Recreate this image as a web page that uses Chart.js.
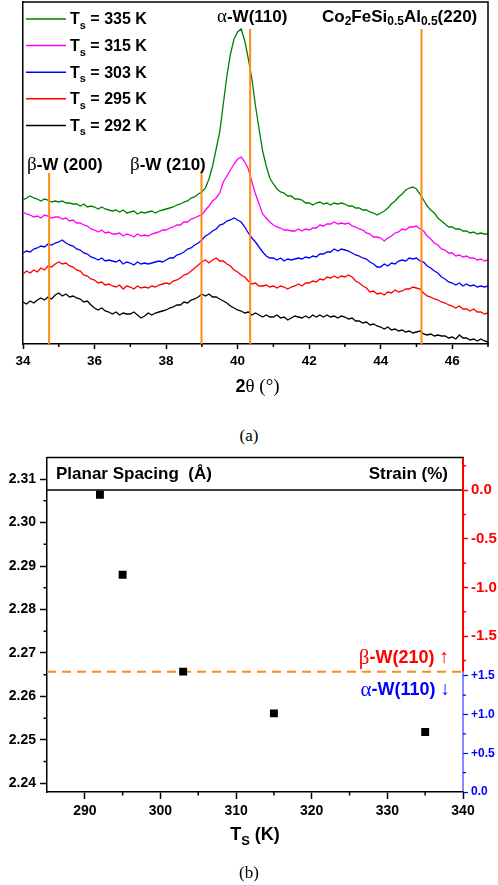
<!DOCTYPE html>
<html><head><meta charset="utf-8">
<script src="https://cdn.jsdelivr.net/npm/chart.js@4/dist/chart.umd.min.js"></script>
<style>
html,body{margin:0;padding:0;background:#fff;width:498px;height:885px;overflow:hidden;}
#ca{position:absolute;left:0;top:0;}
#cb{position:absolute;left:0;top:445px;}
.cap{position:absolute;left:0;width:498px;text-align:center;font-family:"Liberation Serif","DejaVu Serif",serif;font-size:17px;color:#000;line-height:20px;}
</style></head><body>
<canvas id="ca" width="498" height="400"></canvas>
<div class="cap" style="top:426px">(a)</div>
<canvas id="cb" width="498" height="440"></canvas>
<div class="cap" style="top:863px">(b)</div>
<script>
// ---------------- DATA : panel (a) XRD patterns ----------------
const twoTheta = [
34.0,34.1,34.2,34.3,34.4,34.5,34.6,34.7,34.8,34.9,
35.0,35.1,35.2,35.3,35.4,35.5,35.6,35.7,35.8,35.9,
36.0,36.1,36.2,36.3,36.4,36.5,36.6,36.7,36.8,36.9,
37.0,37.1,37.2,37.3,37.4,37.5,37.6,37.7,37.8,37.9,
38.0,38.1,38.2,38.3,38.4,38.5,38.6,38.7,38.8,38.9,
39.0,39.1,39.2,39.3,39.4,39.5,39.6,39.7,39.8,39.9,
40.0,40.1,40.2,40.3,40.4,40.5,40.6,40.7,40.8,40.9,
41.0,41.1,41.2,41.3,41.4,41.5,41.6,41.7,41.8,41.9,
42.0,42.1,42.2,42.3,42.4,42.5,42.6,42.7,42.8,42.9,
43.0,43.1,43.2,43.3,43.4,43.5,43.6,43.7,43.8,43.9,
44.0,44.1,44.2,44.3,44.4,44.5,44.6,44.7,44.8,44.9,
45.0,45.1,45.2,45.3,45.4,45.5,45.6,45.7,45.8,45.9,
46.0,46.1,46.2,46.3,46.4,46.5,46.6,46.7,46.8,46.9,
47.0];
const intensity335K = [
144,146,148,146,145,143,145,144,142,143,
142,143,141,141,140,140,138,140,137,138,
137,135,137,135,134,133,134,132,134,131,
132,133,130,132,131,132,133,131,133,134,
135,136,137,139,140,142,143,146,147,150,
152,156,165,178,195,212,240,268,290,305,
312,315,303,285,265,238,215,193,178,166,
160,155,152,151,148,148,145,145,144,141,
141,139,141,142,140,141,139,141,140,141,
140,138,138,136,136,134,134,132,131,129,
131,133,136,140,143,147,150,154,156,157,
155,150,144,138,134,131,126,123,120,117,
117,115,115,113,113,111,112,110,111,110,
110];
const intensity315K = [
132,130,129,127,128,126,129,128,126,127,
127,125,126,123,124,121,121,119,118,115,
114,112,114,111,112,110,110,111,108,110,
109,107,110,108,109,108,110,111,112,114,
114,116,117,119,119,122,122,125,126,128,
129,134,138,143,146,151,162,168,174,180,
185,187,182,175,162,150,140,130,126,122,
119,117,116,114,114,113,113,115,113,115,
114,116,116,119,118,120,120,122,120,121,
120,121,118,117,115,114,111,110,107,107,
106,103,106,108,111,112,115,114,117,117,
118,115,113,108,105,101,99,95,94,91,
91,88,89,87,88,86,86,84,85,83,
84];
const intensity303K = [
91,93,92,95,96,98,97,100,99,101,
102,104,101,99,98,95,94,91,90,87,
86,84,86,83,84,83,82,84,80,82,
81,79,82,80,81,80,81,82,83,82,
84,86,86,89,90,92,95,96,99,101,
104,108,110,113,115,119,120,123,124,126,
124,122,117,111,106,102,97,92,88,86,
86,84,86,83,85,84,85,86,85,87,
86,88,87,90,90,92,92,95,93,95,
94,93,91,89,88,86,85,82,80,77,
77,80,78,81,80,83,84,83,86,85,
86,83,82,78,76,73,71,67,65,62,
61,59,61,58,60,58,59,57,58,57,
58];
const intensity295K = [
70,73,71,74,72,76,74,78,77,80,
82,80,81,78,77,74,73,69,68,65,
64,61,62,59,60,58,57,59,55,58,
57,55,58,56,57,56,58,57,59,60,
61,60,63,64,66,69,70,73,76,79,
82,84,81,84,86,83,83,80,78,74,
72,69,67,63,60,61,58,58,59,57,
58,56,58,57,55,57,58,60,58,61,
61,63,62,65,64,67,66,68,66,68,
67,69,67,63,61,58,56,52,53,50,
51,49,52,51,54,52,53,55,55,57,
56,55,51,48,47,45,44,42,41,39,
38,36,38,35,35,33,35,32,32,30,
31];
const intensity292K = [
42,40,43,41,44,46,44,47,45,49,
51,48,50,47,48,46,45,42,43,39,
36,34,36,33,32,30,32,29,31,30,
30,32,29,26,28,31,29,31,32,33,
34,36,37,39,39,42,41,44,45,47,
50,48,50,47,47,45,43,41,38,36,
34,33,31,32,29,31,29,27,29,27,
27,29,26,27,24,26,28,27,26,28,
26,29,27,29,27,29,27,28,26,28,
27,25,26,23,23,21,22,19,20,18,
17,15,17,14,15,13,14,12,13,11,
12,13,10,9,10,8,9,8,8,6,
7,5,9,6,6,4,5,3,5,3,
2];
const seriesTemps = [335, 315, 303, 295, 292];
const seriesColors = ['#008000', '#ff00ff', '#0000ff', '#ff0000', '#000000'];
const peakPositions = [34.73, 38.99, 40.35, 45.14];   // β-W(200), β-W(210), α-W(110), CFSA(220)
const peakMarkerTop = [171, 171, 315, 315];
const xTicksA = [34, 36, 38, 40, 42, 44, 46];
const xMinorA = [35, 37, 39, 41, 43, 45, 47];

// ---------------- DATA : panel (b) planar spacing ----------------
const substrateTemp = [292, 295, 303, 315, 335];
const planarSpacing = [2.3064, 2.2880, 2.2657, 2.2561, 2.2518];
const betaRefSpacing = 2.3075;   // zero-strain reference (top line)
const phaseBoundary = 2.2657;    // dashed boundary β / α
const xTicksB = [290, 300, 310, 320, 330, 340];
const xMinorB = [295, 305, 315, 325, 335];
const yTicksB = [2.24, 2.25, 2.26, 2.27, 2.28, 2.29, 2.30, 2.31];
const yMinorB = [2.245, 2.255, 2.265, 2.275, 2.285, 2.295, 2.305];
const strainTicksBeta = [0, -0.5, -1.0, -1.5];
const strainMinorBeta = [0.25, -0.25, -0.75, -1.25, -1.75];
const strainTicksAlpha = [0, 0.5, 1.0, 1.5];
const strainMinorAlpha = [0.25, 0.75, 1.25];

// ---------------- helpers ----------------
const SANS = "'Liberation Sans', Arial, Helvetica, sans-serif";
const SERIF = "'Liberation Serif', 'Times New Roman', serif";
const B = px => `bold ${px}px ${SANS}`;
const R = px => `${px}px ${SERIF}`;
const N = px => `${px}px ${SANS}`;

function rich(ctx, x, y, segs, align) {
  ctx.save();
  ctx.textBaseline = 'middle';
  ctx.textAlign = 'left';
  let w = 0;
  segs.forEach(s => { ctx.font = s[1]; w += ctx.measureText(s[0]).width; });
  let cx = align === 'right' ? x - w : (align === 'center' ? x - w / 2 : x);
  segs.forEach(s => {
    ctx.font = s[1];
    ctx.fillStyle = s[3] || '#000';
    ctx.fillText(s[0], cx, y + (s[2] || 0));
    cx += ctx.measureText(s[0]).width;
  });
  ctx.restore();
}

function minorTicks(chart, id, vals, len, color, width) {
  const s = chart.scales[id], ctx = chart.ctx, a = chart.chartArea;
  ctx.save();
  ctx.strokeStyle = color; ctx.lineWidth = width;
  ctx.beginPath();
  vals.forEach(v => {
    const p = s.getPixelForValue(v);
    if (s.axis === 'x') { ctx.moveTo(p, a.bottom); ctx.lineTo(p, a.bottom + len); }
    else if (s.position === 'left') { ctx.moveTo(a.left, p); ctx.lineTo(a.left - len, p); }
    else { ctx.moveTo(a.right, p); ctx.lineTo(a.right + len, p); }
  });
  ctx.stroke();
  ctx.restore();
}

const fixedTicks = arr => (s => { s.ticks = arr.map(v => ({ value: v })); });
const alphaLabel = v => (v === 0 ? '0.0' : '+' + v.toFixed(1));

// ---------------- chart (a) ----------------
const curves = [intensity335K, intensity315K, intensity303K, intensity295K, intensity292K];
const dsA = [];
peakPositions.forEach((p, i) => dsA.push({
  data: [{ x: p, y: 0 }, { x: p, y: peakMarkerTop[i] }],
  borderColor: '#ff8a14', borderWidth: 2, pointRadius: 0
}));
curves.forEach((c, i) => dsA.push({
  label: 'Ts = ' + seriesTemps[i] + ' K',
  data: twoTheta.map((t, j) => ({ x: t, y: c[j] })),
  borderColor: seriesColors[i], borderWidth: 1.3, pointRadius: 0, tension: 0
}));

const panelA = {
  id: 'panelA',
  afterDraw(chart) {
    const ctx = chart.ctx, a = chart.chartArea;
    ctx.save();
    ctx.strokeStyle = '#000'; ctx.lineWidth = 1.5;
    ctx.beginPath();
    ctx.moveTo(a.left, a.top); ctx.lineTo(a.right, a.top); ctx.lineTo(a.right, a.bottom);
    ctx.stroke();
    ctx.restore();
    minorTicks(chart, 'x', xMinorA, 3, '#000', 1.5);
    rich(ctx, 27, 165, [['β', R(19)], ['-W (200)', B(17)]], 'left');
    rich(ctx, 130, 165, [['β', R(19)], ['-W (210)', B(17)]], 'left');
    rich(ctx, 217, 17, [['α', R(19)], ['-W(110)', B(17)]], 'left');
    rich(ctx, 322, 17, [['Co', B(17)], ['2', B(12), 5], ['FeSi', B(17)], ['0.5', B(12), 5],
      ['Al', B(17)], ['0.5', B(12), 5], ['(220)', B(17)]], 'left');
    seriesTemps.forEach((t, i) => {
      const y = 19 + i * 26.6;
      ctx.save();
      ctx.strokeStyle = seriesColors[i]; ctx.lineWidth = 1.5;
      ctx.beginPath(); ctx.moveTo(26, y); ctx.lineTo(66, y); ctx.stroke();
      ctx.restore();
      rich(ctx, 70, y + 1, [['T', B(16)], ['s', B(11), 6], [' = ' + t + ' K', B(16)]], 'left');
    });
    rich(ctx, (a.left + a.right) / 2 + 2, 387, [['2', B(18)], ['θ (°)', R(19)]], 'center');
  }
};

new Chart(document.getElementById('ca'), {
  type: 'line',
  data: { datasets: dsA },
  options: {
    responsive: false, animation: false, events: [],
    layout: { padding: { top: 2, right: 10, left: 0, bottom: 0 } },
    plugins: { legend: { display: false }, tooltip: { enabled: false } },
    scales: {
      x: {
        type: 'linear', min: 34, max: 47, bounds: 'data',
        afterBuildTicks: fixedTicks(xTicksA),
        afterFit: s => { s.height = 56; },
        ticks: { autoSkip: false, maxRotation: 0, color: '#000', padding: 4,
          font: { family: SANS, size: 13.5, weight: 'bold' } },
        grid: { display: true, drawOnChartArea: false, drawTicks: true, tickLength: 5, tickWidth: 1.5, tickColor: '#000' },
        border: { display: true, color: '#000', width: 1.5 }
      },
      y: {
        type: 'linear', min: 0, max: 342, bounds: 'data',
        afterFit: s => { s.width = 23; },
        ticks: { display: false },
        grid: { display: false },
        border: { display: true, color: '#000', width: 1.5 }
      }
    }
  },
  plugins: [panelA]
});

// ---------------- chart (b) ----------------
const panelB = {
  id: 'panelB',
  afterDraw(chart) {
    const ctx = chart.ctx, a = chart.chartArea, y = chart.scales.y, y3 = chart.scales.y3;
    const pb = y.getPixelForValue(phaseBoundary);
    ctx.save();
    ctx.strokeStyle = '#000'; ctx.lineWidth = 1.5;
    ctx.beginPath(); ctx.moveTo(a.left, a.top); ctx.lineTo(a.right + 1, a.top); ctx.stroke();
    ctx.strokeStyle = '#ff0000'; ctx.lineWidth = 2;
    ctx.beginPath(); ctx.moveTo(a.right, a.top); ctx.lineTo(a.right, pb); ctx.stroke();
    ctx.strokeStyle = '#3b3bff'; ctx.lineWidth = 1.2;
    ctx.beginPath(); ctx.moveTo(a.right, pb); ctx.lineTo(a.right, a.bottom); ctx.stroke();
    ctx.restore();
    minorTicks(chart, 'x', xMinorB, 3.5, '#000', 1.5);
    minorTicks(chart, 'y', yMinorB, 3.5, '#000', 1.5);
    minorTicks(chart, 'y2', strainMinorBeta, 3, '#ff0000', 1.5);
    minorTicks(chart, 'y3', strainMinorAlpha, 3, '#0000ff', 1.2);
    // labels of the alpha-phase strain axis (its scale box has zero width)
    strainTicksAlpha.forEach(v => {
      rich(ctx, a.right + 8, y3.getPixelForValue(v), [[alphaLabel(v), B(12), 0, '#0000ff']], 'left');
    });
    rich(ctx, 56, 29, [['Planar Spacing  (Å)', B(17)]], 'left');
    rich(ctx, 448, 29, [['Strain (%)', B(17)]], 'right');
    rich(ctx, 449, 213, [['β', R(21), 0, '#ff0000'], ['-W(210) ', B(18), 0, '#ff0000'], ['↑', N(19), 0, '#ff0000']], 'right');
    rich(ctx, 450, 245, [['α', R(21), 0, '#0000ff'], ['-W(110) ', B(18), 0, '#0000ff'], ['↓', N(19), 0, '#0000ff']], 'right');
    rich(ctx, (a.left + a.right) / 2, 390, [['T', B(18)], ['S', B(13), 6], [' (K)', B(18)]], 'center');
  }
};

new Chart(document.getElementById('cb'), {
  type: 'scatter',
  data: {
    datasets: [
      { label: 'Planar spacing', data: substrateTemp.map((t, i) => ({ x: t, y: planarSpacing[i] })),
        pointStyle: 'rect', pointRadius: 5.6, backgroundColor: '#000', borderColor: '#000', borderWidth: 0, showLine: false },
      { label: 'phase boundary', data: [{ x: 285, y: phaseBoundary }, { x: 340, y: phaseBoundary }],
        showLine: true, borderColor: '#ff8a14', borderWidth: 2, borderDash: [9, 6], pointRadius: 0 },
      { label: 'reference', data: [{ x: 285, y: betaRefSpacing }, { x: 340, y: betaRefSpacing }],
        showLine: true, borderColor: '#000', borderWidth: 1.5, pointRadius: 0 }
    ]
  },
  options: {
    responsive: false, animation: false, events: [],
    layout: { padding: { top: 10, right: 0, left: 0, bottom: 0 } },
    plugins: { legend: { display: false }, tooltip: { enabled: false } },
    scales: {
      x: {
        type: 'linear', min: 285, max: 340, bounds: 'data',
        afterBuildTicks: fixedTicks(xTicksB),
        afterFit: s => { s.height = 93; },
        ticks: { autoSkip: false, maxRotation: 0, color: '#000', padding: 4,
          font: { family: SANS, size: 14, weight: 'bold' } },
        grid: { display: true, drawOnChartArea: false, tickLength: 7, tickWidth: 1.5, tickColor: '#000' },
        border: { display: true, color: '#000', width: 1.5 }
      },
      y: {
        type: 'linear', position: 'left', min: 2.238, max: 2.315, bounds: 'data',
        afterBuildTicks: fixedTicks(yTicksB),
        afterFit: s => { s.width = 47; },
        ticks: { autoSkip: false, color: '#000', padding: 4, callback: v => v.toFixed(2),
          font: { family: SANS, size: 14, weight: 'bold' } },
        grid: { display: true, drawOnChartArea: false, tickLength: 7, tickWidth: 1.5, tickColor: '#000' },
        border: { display: true, color: '#000', width: 1.5 }
      },
      y3: {
        type: 'linear', position: 'right', min: 0, max: 4.32, bounds: 'data', weight: 0,
        afterBuildTicks: fixedTicks(strainTicksAlpha),
        afterFit: s => { s.width = 0; },
        ticks: { autoSkip: false, color: '#0000ff', padding: 3, callback: alphaLabel,
          font: { family: SANS, size: 12, weight: 'bold' } },
        grid: { display: true, drawOnChartArea: false, tickLength: 5, tickWidth: 1.2, tickColor: '#0000ff' },
        border: { display: false }
      },
      y2: {
        type: 'linear', position: 'right', min: -3.102, max: 0.337, bounds: 'data', weight: 1,
        afterBuildTicks: fixedTicks(strainTicksBeta),
        afterFit: s => { s.width = 35; },
        ticks: { autoSkip: false, color: '#ff0000', padding: 3, callback: v => v.toFixed(1),
          font: { family: SANS, size: 15, weight: 'bold' } },
        grid: { display: true, drawOnChartArea: false, tickLength: 5, tickWidth: 1.5, tickColor: '#ff0000' },
        border: { display: false }
      }
    }
  },
  plugins: [panelB]
});
</script>
</body></html>
